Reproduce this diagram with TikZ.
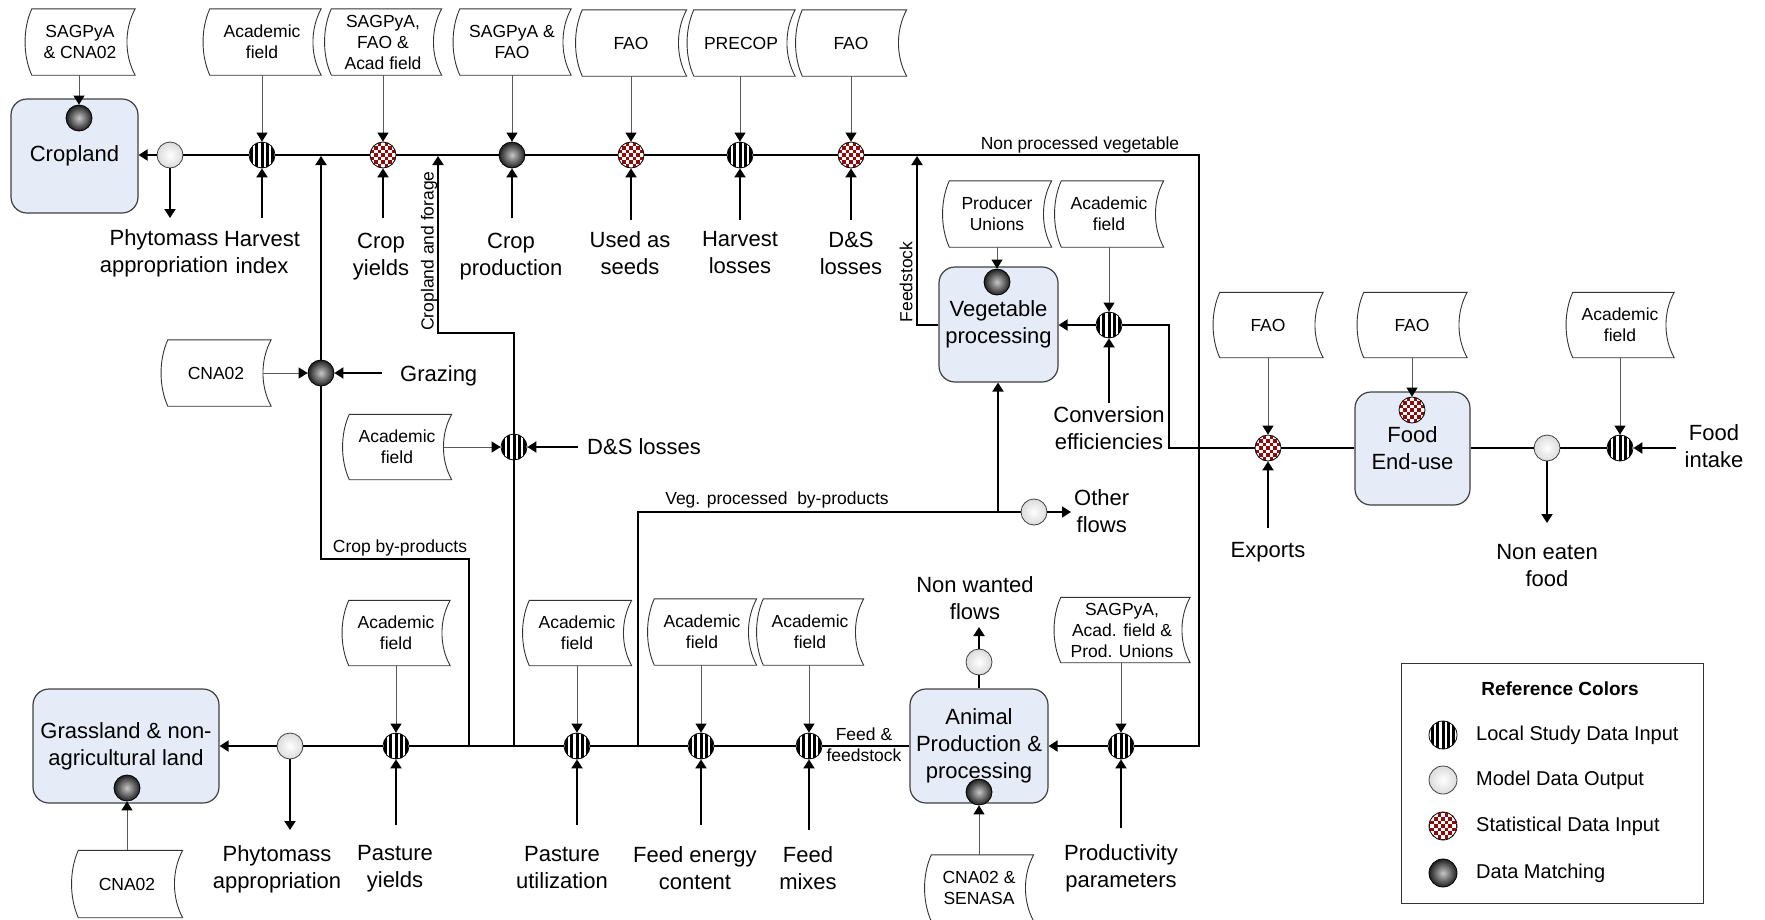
\documentclass[tikz,border=0pt]{standalone}
\usepackage{fontspec}
\setmainfont{Liberation Sans}
\usetikzlibrary{arrows.meta,calc}
\definecolor{procfill}{RGB}{229,236,247}
\definecolor{chkred}{RGB}{150,8,8}
\tikzset{
 flow/.style={line width=2pt},
 farr/.style={flow,-{Triangle[length=9pt,width=11pt]}},
 sarr/.style={line width=1pt,draw=black!65,-{Triangle[length=9pt,width=11pt,color=black]}},
 proc/.style={draw=black!75,line width=1.2pt,fill=procfill,rounded corners=16pt,align=center,inner sep=0pt,font=\fontsize{22}{27}\selectfont},
 lbl/.style={align=center,inner sep=0pt,font=\fontsize{22}{27}\selectfont},
 slbl/.style={align=center,inner sep=0pt,font=\fontsize{17.5}{21}\selectfont},
 srcn/.style={align=center,inner sep=0pt,font=\fontsize{17.5}{21}\selectfont},
 srcline/.style={draw=black!80,line width=0.9pt},
 ballbase/.style={circle,inner sep=0pt,minimum size=26pt,draw=black,line width=0.8pt},
 stripeball/.style={ballbase,fill=white,path picture={\foreach \k in {-3,...,3}{\fill[black] ([xshift=\k*5.2pt-1.5pt,yshift=-17pt]path picture bounding box.center) rectangle ++(3pt,34pt);}}},
 checkball/.style={ballbase,fill=white,path picture={\foreach \i in {0,...,8}{\foreach \j in {0,...,4}{\pgfmathsetmacro\yy{2*\j+mod(\i,2)}\fill[chkred] ([xshift=\i*3.6pt-16.2pt,yshift=\yy*3.6pt-16.2pt]path picture bounding box.center) rectangle ++(3.6pt,3.6pt);}}}},
 matchball/.style={ballbase,inner color=black!22,outer color=black!88},
 outball/.style={ballbase,draw=black!75,inner color=white,outer color=black!14},
}
\newcommand\srcbox[6]{%
 \node[srcn,minimum width=#4pt,minimum height=#5pt] (#1) at (#2,#3) {#6};
 \draw[srcline] ([xshift=7pt]#1.north west) -- (#1.north east)
   .. controls ([xshift=-11pt,yshift=-#5*0.3pt]#1.north east) and ([xshift=-11pt,yshift=#5*0.3pt]#1.south east) .. (#1.south east)
   -- ([xshift=7pt]#1.south west)
   .. controls ([xshift=-2pt,yshift=#5*0.3pt]#1.south west) and ([xshift=-2pt,yshift=-#5*0.3pt]#1.north west) .. cycle;
}
\begin{document}
\begin{tikzpicture}[x=1pt,y=-1pt]
\useasboundingbox (0,0) rectangle (1765,919);
% ---------- processes
\node[proc,minimum width=127pt,minimum height=114pt] (crop) at (74.5,156) {Cropland};
\node[proc,minimum width=119pt,minimum height=115pt] (veg) at (998.5,324.5) {Vegetable\\processing};
\node[proc,minimum width=115pt,minimum height=113pt] (food) at (1412.5,448.5) {Food\\End-use};
\node[proc,minimum width=186pt,minimum height=114pt] (grass) at (126,746) {Grassland \& non-\\agricultural land};
\node[proc,minimum width=138pt,minimum height=114pt] (anim) at (979,746) {Animal\\Production \&\\processing};
% ---------- balls
\node[matchball] (cropm) at (79,118) {};
\node[outball] (pmA) at (170,155) {};
\node[stripeball] (hi) at (262,155) {};
\node[checkball] (cy) at (383,155) {};
\node[matchball] (cp) at (512,155) {};
\node[checkball] (us) at (631,155) {};
\node[stripeball] (hl) at (740,155) {};
\node[checkball] (dsa) at (851,155) {};
\node[matchball] (gz) at (321,373) {};
\node[stripeball] (dsb) at (514,447) {};
\node[matchball] (vegm) at (997,282) {};
\node[stripeball] (conv) at (1109,325) {};
\node[checkball] (exp) at (1268,448) {};
\node[checkball] (foodc) at (1412,410) {};
\node[outball] (pmC) at (1547,448) {};
\node[stripeball] (fi) at (1620,448) {};
\node[outball] (oth) at (1034,512) {};
\node[outball] (pmB) at (290,746) {};
\node[matchball] (grassm) at (127,788) {};
\node[stripeball] (py) at (396,746) {};
\node[stripeball] (pu) at (577,746) {};
\node[stripeball] (fe) at (701,746) {};
\node[stripeball] (fm) at (809,746) {};
\node[outball] (nw) at (979,662) {};
\node[matchball] (anm) at (979,792) {};
\node[stripeball] (prod) at (1121,746) {};
% ---------- sources
\srcbox{sA}{80}{42}{110}{66}{SAGPyA\\\& CNA02}
\srcbox{sB}{262}{42}{118}{66}{Academic\\field}
\srcbox{sC}{383}{42}{117}{66}{SAGPyA,\\FAO \&\\Acad field}
\srcbox{sD}{512}{42}{118}{66}{SAGPyA \&\\FAO}
\srcbox{sE}{631}{43}{111}{66}{FAO}
\srcbox{sF}{741}{43}{108}{66}{PRECOP}
\srcbox{sG}{851}{43}{111}{66}{FAO}
\srcbox{sPU}{997}{214}{109}{66}{Producer\\Unions}
\srcbox{sCE}{1109}{214}{109}{66}{Academic\\field}
\srcbox{sEx}{1268}{325}{110}{65}{FAO}
\srcbox{sFo}{1412}{325}{110}{65}{FAO}
\srcbox{sFI}{1620}{325}{108}{65}{Academic\\field}
\srcbox{sGz}{216}{373}{110}{66}{CNA02}
\srcbox{sDS}{397}{447}{109}{65}{Academic\\field}
\srcbox{sPY}{396}{633}{108}{65}{Academic\\field}
\srcbox{sPV}{577}{633}{109}{65}{Academic\\field}
\srcbox{sFE}{702}{632}{109}{66}{Academic\\field}
\srcbox{sFM}{810}{632}{107}{66}{Academic\\field}
\srcbox{sPr}{1122}{630}{136}{65}{SAGPyA,\\Acad. field \&\\Prod. Unions}
\srcbox{sAn}{979}{888}{109}{66}{CNA02 \&\\SENASA}
\srcbox{sGr}{127}{884}{111}{67}{CNA02}
% ---------- source arrows
\draw[sarr] (sA.south -| cropm) -- (cropm);
\draw[sarr] (sB.south -| hi) -- (hi);
\draw[sarr] (sC.south -| cy) -- (cy);
\draw[sarr] (sD.south -| cp) -- (cp);
\draw[sarr] (sE.south -| us) -- (us);
\draw[sarr] (sF.south -| hl) -- (hl);
\draw[sarr] (sG.south -| dsa) -- (dsa);
\draw[sarr] (sPU.south -| vegm) -- (vegm);
\draw[sarr] (sCE.south -| conv) -- (conv);
\draw[sarr] (sEx.south -| exp) -- (exp);
\draw[sarr] (sFo.south -| foodc) -- (foodc);
\draw[sarr] (sFI.south -| fi) -- (fi);
\draw[sarr] ([xshift=-8pt]sGz.east) -- (gz);
\draw[sarr] ([xshift=-8pt]sDS.east) -- (dsb);
\draw[sarr] (sPY.south -| py) -- (py);
\draw[sarr] (sPV.south -| pu) -- (pu);
\draw[sarr] (sFE.south -| fe) -- (fe);
\draw[sarr] (sFM.south -| fm) -- (fm);
\draw[sarr] (sPr.south -| prod) -- (prod);
\draw[sarr] (sAn.north -| anm) -- (anm);
\draw[sarr] (sGr.north -| grassm) -- (grassm);
% ---------- labels
\node[lbl] (lPA) at (164,253) {Phytomass\\appropriation};
\node[lbl] (lHI) at (262,253) {Harvest\\index};
\node[lbl] (lCY) at (381,257) {Crop\\yields};
\node[lbl] (lCP) at (511,257) {Crop\\production};
\node[lbl] (lUS) at (630,253) {Used as\\seeds};
\node[lbl] (lHL) at (740,253) {Harvest\\losses};
\node[lbl] (lDA) at (851,253) {D\&S\\losses};
\node[lbl,anchor=west] (lGz) at (400,376) {Grazing};
\node[lbl,anchor=west] (lDB) at (587,447) {D\&S losses};
\node[lbl] (lCE) at (1109,428) {Conversion\\efficiencies};
\node[lbl] (lEx) at (1268,552) {Exports};
\node[lbl] (lNE) at (1547,566) {Non eaten\\food};
\node[lbl] (lFI) at (1714,446) {Food\\intake};
\node[lbl,anchor=west] (lOF) at (1074,511) {Other\\flows};
\node[lbl] (lNW) at (975,598) {Non wanted\\flows};
\node[lbl] (lPB) at (277,869) {Phytomass\\appropriation};
\node[lbl] (lPY) at (395,869) {Pasture\\yields};
\node[lbl] (lPU) at (562,868) {Pasture\\utilization};
\node[lbl] (lFE) at (695,868) {Feed energy\\content};
\node[lbl] (lFM) at (808,868) {Feed\\mixes};
\node[lbl] (lPr) at (1121,868) {Productivity\\parameters};
\node[slbl] (lNP) at (1080,145) {Non processed vegetable};
\node[slbl] (lCB) at (400,548) {Crop by-products};
\node[slbl] (lVP) at (777,500) {Veg. processed\ \ by-products};
\node[slbl] (lFF) at (864,745) {Feed \&\\feedstock};
\node[slbl,rotate=90] (lCF) at (429,251) {Cropland and forage};
\node[slbl,rotate=90] (lFS) at (906,282) {Feedstock};
% ---------- free ends
\coordinate (tPA) at (170,218);
\coordinate (tHI) at (262,218);
\coordinate (tCY) at (383,218);
\coordinate (tCP) at (512,218);
\coordinate (tUS) at (631,220);
\coordinate (tHL) at (740,220);
\coordinate (tDA) at (851,220);
\coordinate (tCE) at (1109,403);
\coordinate (tEx) at (1268,528);
\coordinate (tNE) at (1547,523);
\coordinate (tFI) at (1676,448);
\coordinate (tGz) at (382,373);
\coordinate (tDB) at (578,447);
\coordinate (tOF) at (1071,512);
\coordinate (tNW) at (979,627);
\coordinate (tPB) at (290,830);
\coordinate (tPY) at (396,825);
\coordinate (tPU) at (577,825);
\coordinate (tFE) at (701,825);
\coordinate (tFM) at (809,830);
\coordinate (tPr) at (1121,828);
% ---------- label arrows
\draw[farr] (pmA) -- (tPA);
\draw[farr] (tHI) -- (hi);
\draw[farr] (tCY) -- (cy);
\draw[farr] (tCP) -- (cp);
\draw[farr] (tUS) -- (us);
\draw[farr] (tHL) -- (hl);
\draw[farr] (tDA) -- (dsa);
\draw[farr] (tCE) -- (conv);
\draw[farr] (tEx) -- (exp);
\draw[farr] (pmC) -- (tNE);
\draw[farr] (tFI) -- (fi);
\draw[farr] (tGz) -- (gz);
\draw[farr] (tDB) -- (dsb);
\draw[farr] (oth) -- (tOF);
\draw[farr] (nw) -- (tNW);
\draw[farr] (pmB) -- (tPB);
\draw[farr] (tPY) -- (py);
\draw[farr] (tPU) -- (pu);
\draw[farr] (tFE) -- (fe);
\draw[farr] (tFM) -- (fm);
\draw[farr] (tPr) -- (prod);
% ---------- main flows
\coordinate (cTR) at (1199,155);
\coordinate (cBR) at (1199,746);
\draw[farr] (pmA) -- (pmA -| crop.east);
\draw[flow] (pmA) -- (hi);
\draw[flow] (hi) -- (cy);
\draw[flow] (cy) -- (cp);
\draw[flow] (cp) -- (us);
\draw[flow] (us) -- (hl);
\draw[flow] (hl) -- (dsa);
\draw[flow] (dsa) -- (cTR) -- (cBR) -- (prod);
\draw[farr] (prod) -- (prod -| anim.east);
% grazing / crop by-products
\coordinate (jA) at (321,156);
\coordinate (cA) at (321,559);
\coordinate (cB) at (469,559);
\coordinate (cC) at (469,746);
\draw[farr] (gz) -- (jA);
\draw[flow] (gz) -- (cA) -- (cB) -- (cC);
% cropland and forage
\coordinate (cD) at (514,746);
\coordinate (cE) at (514,333);
\coordinate (cF) at (438,333);
\coordinate (jB) at (438,156);
\draw[flow] (cD) -- (dsb);
\draw[farr] (dsb) -- (cE) -- (cF) -- (jB);
% veg processed by-products
\coordinate (cG) at (638,746);
\coordinate (cH) at (638,512);
\coordinate (cI) at (998,512);
\draw[flow] (cG) -- (cH) -- (oth);
\draw[farr] (cI) -- (cI |- veg.south);
% feedstock
\coordinate (jC) at (917,156);
\draw[farr] (veg.west) -| (jC);
% conversion
\coordinate (cJ) at (1169,325);
\coordinate (cK) at (1169,448);
\draw[farr] (conv) -- (conv -| veg.east);
\draw[flow] (conv) -- (cJ) -- (cK) -- (exp);
\draw[flow] (exp) -- (exp -| food.west);
\draw[flow] (food.east |- pmC) -- (pmC);
\draw[flow] (pmC) -- (fi);
% bottom line
\draw[farr] (pmB) -- (pmB -| grass.east);
\draw[flow] (pmB) -- (py);
\draw[flow] (py) -- (pu);
\draw[flow] (pu) -- (fe);
\draw[flow] (fe) -- (fm);
\draw[flow] (fm) -- (fm -| anim.west);
\draw[flow] (anim.north) -- (nw);
% ---------- legend
\node[draw=black!80,line width=1pt,minimum width=302pt,minimum height=240pt,inner sep=0pt] (leg) at (1552,783) {};
\node[inner sep=0pt,font=\bfseries\fontsize{19}{23}\selectfont] (legT) at (1560,689) {Reference Colors};
\node[stripeball,minimum size=28pt] (lg1) at (1443,735) {};
\node[outball,minimum size=28pt] (lg2) at (1443,780) {};
\node[checkball,minimum size=28pt] (lg3) at (1443,826) {};
\node[matchball,minimum size=28pt] (lg4) at (1443,873) {};
\node[anchor=west,inner sep=0pt,font=\fontsize{20}{24}\selectfont] (lgt1) at (1476,735) {Local Study Data Input};
\node[anchor=west,inner sep=0pt,font=\fontsize{20}{24}\selectfont] (lgt2) at (1476,780) {Model Data Output};
\node[anchor=west,inner sep=0pt,font=\fontsize{20}{24}\selectfont] (lgt3) at (1476,826) {Statistical Data Input};
\node[anchor=west,inner sep=0pt,font=\fontsize{20}{24}\selectfont] (lgt4) at (1476,873) {Data Matching};
\end{tikzpicture}
\end{document}
